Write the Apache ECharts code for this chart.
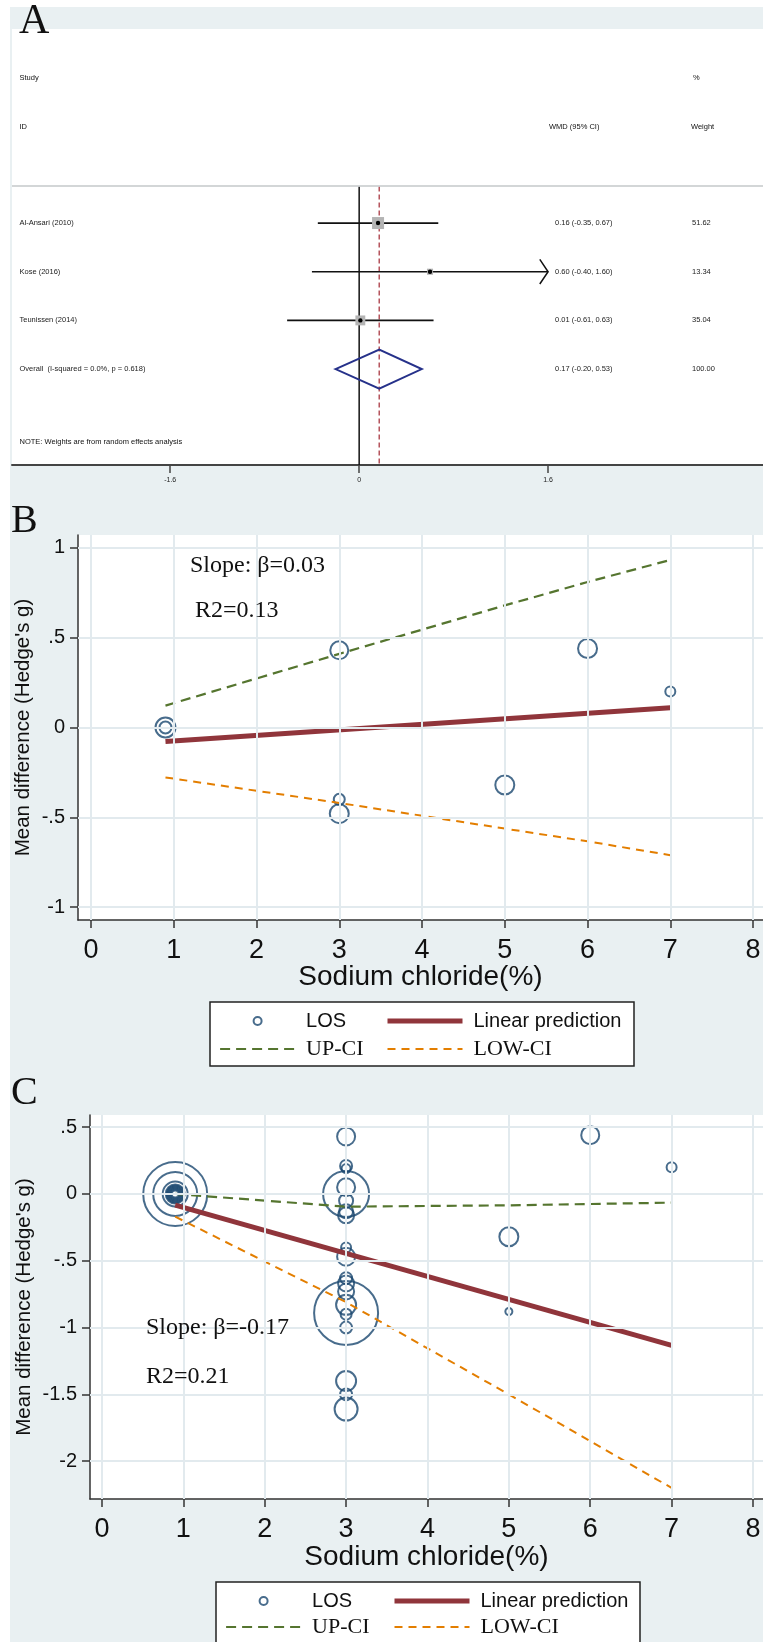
<!DOCTYPE html>
<html>
<head>
<meta charset="utf-8">
<title>Forest plot and meta-regression</title>
<style>
  html, body { margin: 0; padding: 0; background: #fff; }
  #chart { width: 763px; height: 1642px; }
</style>
<script src="https://cdn.jsdelivr.net/npm/echarts@6/dist/echarts.min.js"></script>
</head>
<body>
<div id="chart"></div>
<script>
// ---------- panel A: forest plot ----------
const studies = ['Al-Ansari (2010)', 'Kose (2016)', 'Teunissen (2014)'];
const studyRows = [1, 2, 3];
const wmd = [0.16, 0.60, 0.01];
const ciLow = [-0.35, -0.40, -0.61];
const ciHigh = [0.67, 1.60, 0.63];
const weights = [51.62, 13.34, 35.04];
const overallLabel = 'Overall  (I-squared = 0.0%, p = 0.618)';
const overallRow = 4;
const overallEst = 0.17;
const overallLow = -0.20;
const overallHigh = 0.53;
const overallWeight = 100.00;
const forestTicks = [-1.6, 0, 1.6];
const forestLimit = 1.6;

// ---------- panels B and C: meta-regression ----------
// [sodium chloride %, Hedge's g, bubble weight]
const losB = [[0.9, 0.00, 10], [0.9, 0.00, 6], [3, 0.43, 9], [3, -0.40, 5.5], [3, -0.48, 9.5],
  [5, -0.32, 9.5], [6, 0.44, 9.5], [7, 0.20, 5]];
const predB = [[0.9, -0.078], [7, 0.11]];
const upB = [[0.9, 0.122], [3, 0.41], [5, 0.68], [6, 0.81], [7, 0.933]];
const lowB = [[0.9, -0.278], [3, -0.42], [5, -0.563], [6, -0.634], [7, -0.711]];

const losC = [[0.9, 0, 32], [0.9, 0, 22], [0.9, 0, 12.5], [0.9, 0, 9.5], [0.9, 0, 8.5], [0.9, 0, 7.5],
  [0.9, 0, 6.5], [0.9, 0, 5.5], [0.9, 0, 4.5], [0.9, 0, 3.5],
  [3, 0.43, 9], [3, 0.21, 6], [3, 0.19, 4.5], [3, 0.05, 9], [3, 0.00, 23], [3, -0.05, 7],
  [3, -0.13, 7], [3, -0.16, 8], [3, -0.40, 5], [3, -0.47, 9], [3, -0.63, 6], [3, -0.67, 8],
  [3, -0.73, 8], [3, -0.83, 10], [3, -0.89, 32], [3, -0.90, 5.5], [3, -1.00, 6],
  [3, -1.40, 10], [3, -1.50, 6], [3, -1.61, 11.5],
  [5, -0.32, 9.5], [5, -0.88, 3.5], [6, 0.44, 9], [7, 0.20, 5]];
const predC = [[0.9, -0.083], [7, -1.133]];
const upC = [[0.9, 0.0], [3, -0.095], [5, -0.085], [6, -0.075], [7, -0.065]];
const lowC = [[0.9, -0.17], [3, -0.81], [5, -1.50], [6, -1.85], [7, -2.20]];

const xTicks = [0, 1, 2, 3, 4, 5, 6, 7, 8];
const yTicksB = [-1, -0.5, 0, 0.5, 1];
const yTicksC = [-2, -1.5, -1, -0.5, 0, 0.5];

const NAVY = '#1a476f', MAROON = '#90353b', GREEN = '#55752f', ORANGE = '#e37e00';
const BG = '#e9f0f2', GRIDLINE = '#e2eaee', DIAMOND = '#26318a', REFRED = '#b5545c';
const SANS = '"Liberation Sans", Arial, sans-serif';
const SERIF = '"Liberation Serif", "Times New Roman", serif';

// stata style labels: .5, -.5
function stataLabel(v) {
  if (v === 0) return '0';
  return String(v).replace(/^(-?)0\./, '$1.');
}
function fmtCI(e, l, h) {
  return e.toFixed(2) + ' (' + l.toFixed(2) + ', ' + h.toFixed(2) + ')';
}
function smallText(s, x, y) {
  return {
    type: 'text',
    style: { text: s, x: x, y: y, fill: '#222', font: '7.5px ' + SANS,
      textVerticalAlign: 'middle', verticalAlign: 'middle' }
  };
}

const LABEL_X = 19.5, EST_X = 555, WEIGHT_X = 692;
const separatorRow = 0.25, forestRowMax = 5.97;

function regressionSeries(idx, pts, pred, up, low, yt) {
  return [
    {
      type: 'scatter', xAxisIndex: idx, yAxisIndex: idx, data: pts, symbolSize: 0,
      silent: true, z: 1,
      markLine: {
        silent: true, symbol: 'none', animation: false, label: { show: false },
        lineStyle: { color: GRIDLINE, width: 2, type: 'solid' },
        emphasis: { disabled: true },
        data: xTicks.map(v => ({ xAxis: v })).concat(yt.map(v => ({ yAxis: v })))
      }
    },
    {
      name: 'LOS', type: 'scatter', xAxisIndex: idx, yAxisIndex: idx, data: pts,
      symbol: 'circle', symbolSize: d => d[2] * 2, z: 3,
      itemStyle: { color: 'rgba(255,255,255,0)', borderColor: NAVY, borderWidth: 2 },
      emphasis: { disabled: true }
    },
    {
      name: 'Linear prediction', type: 'line', xAxisIndex: idx, yAxisIndex: idx, data: pred,
      symbol: 'none', z: 4, itemStyle: { color: MAROON },
      lineStyle: { color: MAROON, width: 5 }
    },
    {
      name: 'UP-CI', type: 'line', xAxisIndex: idx, yAxisIndex: idx, data: up,
      symbol: 'none', z: 4, itemStyle: { color: GREEN },
      lineStyle: { color: GREEN, width: 2.2, type: [10, 6] }
    },
    {
      name: 'LOW-CI', type: 'line', xAxisIndex: idx, yAxisIndex: idx, data: low,
      symbol: 'none', z: 4, itemStyle: { color: ORANGE },
      lineStyle: { color: ORANGE, width: 2, type: [8, 6] }
    }
  ];
}

function regXAxis(idx, min, max, gap) {
  return {
    gridIndex: idx, type: 'value', min: min, max: max,
    axisLine: { show: true, onZero: false, lineStyle: { color: '#333', width: 1.5 } },
    axisTick: { show: true, customValues: xTicks, length: 8, lineStyle: { color: '#333', width: 1.5 } },
    axisLabel: { customValues: xTicks, fontSize: 27, color: '#111', margin: 17, fontFamily: SANS },
    splitLine: { show: false },
    name: 'Sodium chloride(%)', nameLocation: 'middle', nameGap: gap, nameMoveOverlap: false,
    nameTextStyle: { fontSize: 28, color: '#111', fontFamily: SANS }
  };
}
function regYAxis(idx, min, max, ticks, gap) {
  return {
    gridIndex: idx, type: 'value', min: min, max: max,
    axisLine: { show: true, onZero: false, lineStyle: { color: '#333', width: 1.5 } },
    axisTick: { show: true, customValues: ticks, length: 8, lineStyle: { color: '#333', width: 1.5 } },
    axisLabel: { customValues: ticks, fontSize: 20, color: '#111', margin: 13, fontFamily: SANS,
      formatter: stataLabel },
    splitLine: { show: false },
    name: "Mean difference (Hedge's g)", nameLocation: 'middle', nameGap: gap, nameRotate: 90,
    nameMoveOverlap: false,
    nameTextStyle: { fontSize: 20.5, color: '#111', fontFamily: SANS }
  };
}

function legendCol(left, top, gap, items) {
  return {
    left: left, top: top, orient: 'vertical', padding: 0, itemGap: gap,
    itemWidth: 75, itemHeight: 8, selectedMode: false,
    textStyle: { fontSize: 20, lineHeight: 24, color: '#111', fontFamily: SANS, padding: [0, 0, 0, 6] },
    data: items
  };
}
const markerItem = name => ({ name: name, textStyle: { fontFamily: SANS, fontSize: 20 } });
const lineItem = (name, family, size, width) => ({
  name: name,
  textStyle: { fontFamily: family, fontSize: size },
  itemStyle: { opacity: 0 },
  lineStyle: { width: width }
});

function label(text, x, y, size, family) {
  return {
    type: 'text', z: 10, silent: true,
    style: { text: text, x: x, y: y, font: size + 'px ' + family, fill: '#111',
      textVerticalAlign: 'middle', verticalAlign: 'middle' }
  };
}

const chart = echarts.init(document.getElementById('chart'), null, { renderer: 'canvas' });

const option = {
  animation: false,
  backgroundColor: '#fff',
  textStyle: { fontFamily: SANS },
  grid: [
    { left: 12, top: 29, width: 751, height: 436, show: true, backgroundColor: '#fff', borderWidth: 0, outerBoundsMode: 'none' },
    { left: 78, top: 535, width: 685, height: 385, show: true, backgroundColor: '#fff', borderWidth: 0, outerBoundsMode: 'none' },
    { left: 90, top: 1115, width: 673, height: 384, show: true, backgroundColor: '#fff', borderWidth: 0, outerBoundsMode: 'none' }
  ],
  xAxis: [
    {
      gridIndex: 0, type: 'value', min: -2.94, max: 3.42,
      axisLine: { show: true, onZero: false, lineStyle: { color: '#444', width: 2 } },
      axisTick: { show: true, customValues: forestTicks, length: 8, lineStyle: { color: '#444', width: 1.5 } },
      axisLabel: { customValues: forestTicks, fontSize: 7, color: '#222', margin: 12, formatter: v => String(v) },
      splitLine: { show: false }
    },
    regXAxis(1, -0.157, 8.12, 43),
    regXAxis(2, -0.147, 8.123, 44)
  ],
  yAxis: [
    { gridIndex: 0, type: 'value', inverse: true, min: -2.986, max: forestRowMax, show: false,
      axisLine: { onZero: false } },
    regYAxis(1, -1.072, 1.072, yTicksB, 44),
    regYAxis(2, -2.283, 0.591, yTicksC, 55)
  ],
  legend: [
    legendCol(219, 1009, 4, [markerItem('LOS'), lineItem('UP-CI', SERIF, 22, 2.2)]),
    legendCol(385, 1009, 4, [lineItem('Linear prediction', SANS, 20, 5), lineItem('LOW-CI', SERIF, 22, 2)]),
    legendCol(225, 1589, 2, [markerItem('LOS'), lineItem('UP-CI', SERIF, 22, 2.2)]),
    legendCol(392, 1589, 2, [lineItem('Linear prediction', SANS, 20, 5), lineItem('LOW-CI', SERIF, 22, 2)])
  ],
  graphic: [
    { type: 'rect', z: -10, silent: true, shape: { x: 10, y: 7, width: 753, height: 1635 }, style: { fill: BG } },
    { type: 'line', z: 5, silent: true, shape: { x1: 12, y1: 186, x2: 763, y2: 186 }, style: { stroke: '#c4c8ca', lineWidth: 1.5 } },
    { type: 'rect', z: -5, silent: true, shape: { x: 210, y: 1002, width: 424, height: 64 }, style: { fill: '#fff', stroke: '#222', lineWidth: 1.5 } },
    { type: 'rect', z: -5, silent: true, shape: { x: 216, y: 1582, width: 424, height: 80 }, style: { fill: '#fff', stroke: '#222', lineWidth: 1.5 } },
    label('A', 19, 22, 42, SERIF),
    label('B', 11, 521, 40, SERIF),
    label('C', 11, 1093, 40, SERIF),
    label('Study', LABEL_X, 78, 7.5, SANS),
    label('%', 693, 78, 7.5, SANS),
    label('ID', LABEL_X, 127, 7.5, SANS),
    label('WMD (95% CI)', 549, 127, 7.5, SANS),
    label('Weight', 691, 127, 7.5, SANS),
    label('NOTE: Weights are from random effects analysis', LABEL_X, 442, 7.5, SANS),
    label('Slope: \u03b2=0.03', 190, 566, 24, SERIF),
    label('R2=0.13', 195, 611, 24, SERIF),
    label('Slope: \u03b2=-0.17', 146, 1328, 24, SERIF),
    label('R2=0.21', 146, 1377, 24, SERIF)
  ],
  series: [
    // reference lines: no effect (solid) and pooled estimate (dashed)
    {
      type: 'custom', xAxisIndex: 0, yAxisIndex: 0, z: 1, silent: true,
      data: [[0, 0], [overallEst, 1]],
      renderItem: (params, api) => {
        const top = api.coord([api.value(0), separatorRow]);
        const bot = api.coord([api.value(0), forestRowMax]);
        const dashed = api.value(1) === 1;
        return {
          type: 'line',
          shape: { x1: top[0], y1: top[1], x2: bot[0], y2: bot[1] },
          style: { stroke: dashed ? REFRED : '#111', lineWidth: 1.5, lineDash: dashed ? [5, 3] : null }
        };
      }
    },
    // individual studies
    {
      type: 'custom', xAxisIndex: 0, yAxisIndex: 0, z: 3, silent: true,
      data: studies.map((s, i) => [studyRows[i], wmd[i], ciLow[i], ciHigh[i], weights[i], i]),
      renderItem: (params, api) => {
        const row = api.value(0), est = api.value(1), lo = api.value(2), hi = api.value(3);
        const w = api.value(4), i = api.value(5);
        const pE = api.coord([est, row]);
        const pL = api.coord([lo, row]);
        const pH = api.coord([Math.min(hi, forestLimit), row]);
        const side = 1.67 * Math.sqrt(w);
        const children = [
          { type: 'line', shape: { x1: pL[0], y1: pE[1], x2: pH[0], y2: pE[1] }, style: { stroke: '#111', lineWidth: 1.7 } },
          { type: 'rect', shape: { x: pE[0] - side / 2, y: pE[1] - side / 2, width: side, height: side }, style: { fill: '#b4b4b4' } },
          { type: 'circle', shape: { cx: pE[0], cy: pE[1], r: 2.2 }, style: { fill: '#000' } },
          smallText(studies[i], LABEL_X, pE[1]),
          smallText(fmtCI(est, lo, hi), EST_X, pE[1]),
          smallText(w.toFixed(2), WEIGHT_X, pE[1])
        ];
        if (hi >= forestLimit) {
          children.push({
            type: 'polyline',
            shape: { points: [[pH[0] - 8.3, pE[1] - 12.3], [pH[0], pE[1]], [pH[0] - 8.3, pE[1] + 12.3]] },
            style: { stroke: '#111', lineWidth: 1.5, fill: null }
          });
        }
        return { type: 'group', children: children };
      }
    },
    // pooled diamond
    {
      type: 'custom', xAxisIndex: 0, yAxisIndex: 0, z: 3, silent: true,
      data: [[overallRow, overallEst, overallLow, overallHigh, overallWeight]],
      renderItem: (params, api) => {
        const row = api.value(0);
        const c = api.coord([api.value(1), row]);
        const l = api.coord([api.value(2), row]);
        const h = api.coord([api.value(3), row]);
        const half = 19.5;
        return {
          type: 'group',
          children: [
            {
              type: 'polygon',
              shape: { points: [[l[0], c[1]], [c[0], c[1] - half], [h[0], c[1]], [c[0], c[1] + half]] },
              style: { fill: 'rgba(0,0,0,0)', stroke: DIAMOND, lineWidth: 2 }
            },
            smallText(overallLabel, LABEL_X, c[1]),
            smallText(fmtCI(api.value(1), api.value(2), api.value(3)), EST_X, c[1]),
            smallText(api.value(4).toFixed(2), WEIGHT_X, c[1])
          ]
        };
      }
    }
  ].concat(regressionSeries(1, losB, predB, upB, lowB, yTicksB))
   .concat(regressionSeries(2, losC, predC, upC, lowC, yTicksC))
};

chart.setOption(option);
</script>
</body>
</html>
